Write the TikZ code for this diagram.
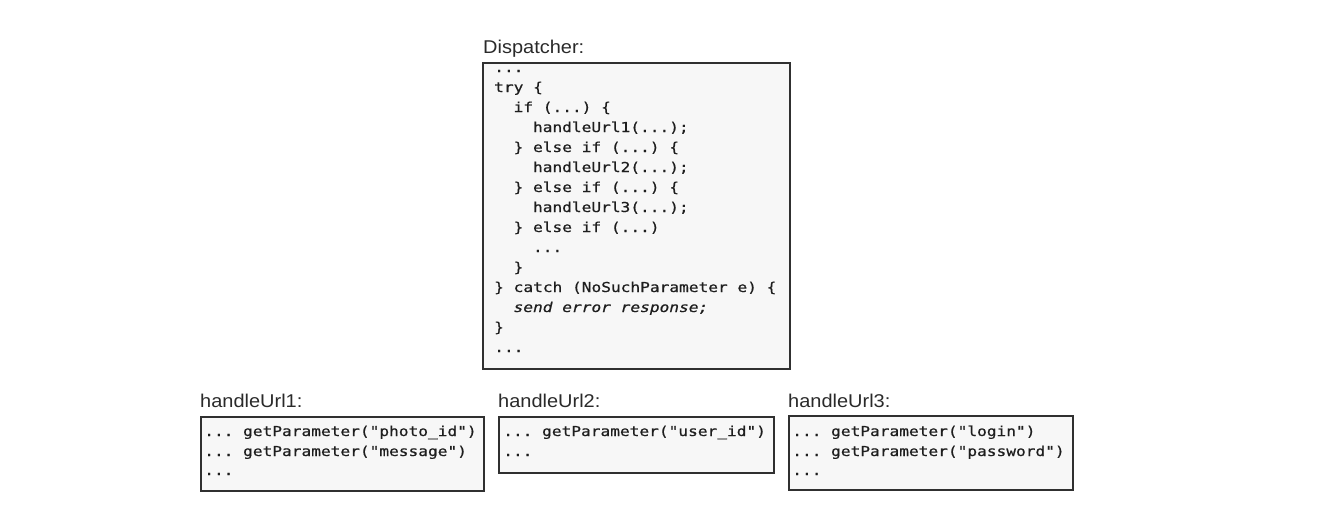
\documentclass[tikz,border=0pt]{standalone}
\usepackage{fontspec}
\setmainfont{Liberation Sans}[FakeStretch=1.08]
\setmonofont{DejaVu Sans Mono}[FakeStretch=1.18,FakeBold=0.6]
\definecolor{boxfill}{HTML}{F7F7F7}
\definecolor{boxline}{HTML}{303030}
\definecolor{codetext}{HTML}{1E1E1E}
\definecolor{labtext}{HTML}{2A2A2A}
\begin{document}
\begin{tikzpicture}[x=1pt,y=-1pt,
  codebox/.style={draw=boxline, line width=1.7pt, fill=boxfill, anchor=north west, inner sep=0pt},
  codeline/.style={anchor=base west, inner sep=0pt, font=\ttfamily\fontsize{13.7}{16}\selectfont, text=codetext},
  boxtitle/.style={anchor=base west, inner sep=0pt, font=\rmfamily\fontsize{18.5}{22}\selectfont, text=labtext}]
\useasboundingbox (0,0) rectangle (1338,514);

% Dispatcher
\node[boxtitle] (tdisp) at (483,53) {Dispatcher:};
\node[codebox, minimum width=307pt, minimum height=306pt] (disp) at (482,62) {};
\node[codeline] (d0)  at (494,72)  {...};
\node[codeline] (d1)  at (494,92)  {try \{};
\node[codeline] (d2)  at ({494+2*9.7},112) {if (...) \{};
\node[codeline] (d3)  at ({494+4*9.7},132) {handleUrl1(...);};
\node[codeline] (d4)  at ({494+2*9.7},152) {\} else if (...) \{};
\node[codeline] (d5)  at ({494+4*9.7},172) {handleUrl2(...);};
\node[codeline] (d6)  at ({494+2*9.7},192) {\} else if (...) \{};
\node[codeline] (d7)  at ({494+4*9.7},212) {handleUrl3(...);};
\node[codeline] (d8)  at ({494+2*9.7},232) {\} else if (...)};
\node[codeline] (d9)  at ({494+4*9.7},252) {...};
\node[codeline] (d10) at ({494+2*9.7},272) {\}};
\node[codeline] (d11) at (494,292) {\} catch (NoSuchParameter e) \{};
\node[codeline] (d12) at ({494+2*9.7},312) {\itshape send error response;};
\node[codeline] (d13) at (494,332) {\}};
\node[codeline] (d14) at (494,352) {...};

% handleUrl1
\node[boxtitle] (th1) at (200,407) {handleUrl1:};
\node[codebox, minimum width=283pt, minimum height=74pt] (h1) at (200,416) {};
\node[codeline] (a1) at (204,436) {... getParameter("photo\_id")};
\node[codeline] (a2) at (204,456) {... getParameter("message")};
\node[codeline] (a3) at (204,475) {...};

% handleUrl2
\node[boxtitle] (th2) at (498,407) {handleUrl2:};
\node[codebox, minimum width=275pt, minimum height=56pt] (h2) at (498,416) {};
\node[codeline] (b1) at (503,436) {... getParameter("user\_id")};
\node[codeline] (b2) at (503,456) {...};

% handleUrl3
\node[boxtitle] (th3) at (788,407) {handleUrl3:};
\node[codebox, minimum width=284pt, minimum height=74pt] (h3) at (788,415) {};
\node[codeline] (c1) at (792,436) {... getParameter("login")};
\node[codeline] (c2) at (792,456) {... getParameter("password")};
\node[codeline] (c3) at (792,475) {...};
\end{tikzpicture}
\end{document}
